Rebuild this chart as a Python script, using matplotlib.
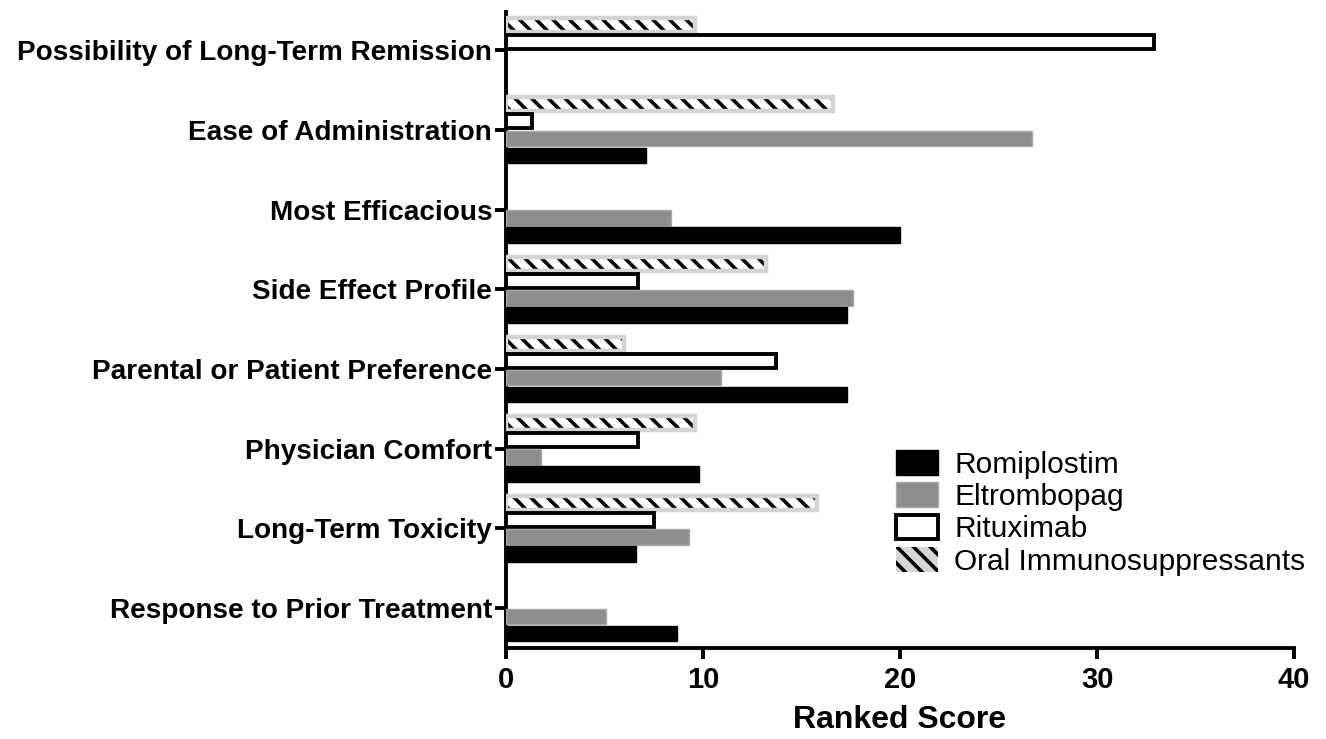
import numpy as np
import matplotlib
matplotlib.use('Agg')
import matplotlib.pyplot as plt
from matplotlib.patches import Patch

categories = ['Possibility of Long-Term Remission', 'Ease of Administration',
              'Most Efficacious', 'Side Effect Profile',
              'Parental or Patient Preference', 'Physician Comfort',
              'Long-Term Toxicity', 'Response to Prior Treatment']
romiplostim = [0, 7.1, 20.0, 17.3, 17.3, 9.8, 6.6, 8.7]
eltrombopag = [0, 26.7, 8.4, 17.6, 10.9, 1.8, 9.3, 5.1]
rituximab = [32.9, 1.3, 0, 6.7, 13.7, 6.7, 7.5, 0]
oral_immuno = [9.6, 16.6, 0, 13.2, 6.0, 9.6, 15.8, 0]
x_ticks = [0, 10, 20, 30, 40]

plt.rcParams['font.family'] = ['Liberation Sans', 'DejaVu Sans']
plt.rcParams['hatch.linewidth'] = 2.6

fig = plt.figure(figsize=(13.26, 7.39), dpi=100)
ax = fig.add_axes([0.3816, 0.1231, 0.5943, 0.8607])

y = np.arange(len(categories))
step = 0.213
h = 0.175


def nonzero(vals, offset):
    # skip empty bars so nothing is drawn at the axis
    vals = np.array(vals, dtype=float)
    keep = vals > 0
    return y[keep] + offset * step, vals[keep]


# oral immunosuppressants: hatched, light grey frame
yy, vv = nonzero(oral_immuno, -1.5)
ax.barh(yy, vv, height=h, color='white', edgecolor='black',
        hatch='\\\\', linewidth=0, zorder=2)
ax.barh(yy, vv, height=h, fill=False, edgecolor='#d4d4d4',
        linewidth=3.2, zorder=3)
yy, vv = nonzero(rituximab, -0.5)
ax.barh(yy, vv, height=h, color='white', edgecolor='black',
        linewidth=2.8, zorder=3)
yy, vv = nonzero(eltrombopag, 0.5)
ax.barh(yy, vv, height=h + 0.02, color='#8d8d8d',
        edgecolor='#a8a8a8', linewidth=1, zorder=3)
yy, vv = nonzero(romiplostim, 1.5)
ax.barh(yy, vv, height=h + 0.02, color='black',
        edgecolor='black', linewidth=1, zorder=3)

ax.set_ylim(7.5, -0.48)
ax.set_xlim(0, 40)
ax.set_yticks(y)
ax.set_yticklabels(categories, fontsize=20.1, fontweight='bold')
ax.set_xticks(x_ticks)
ax.set_xticklabels([str(t) for t in x_ticks], fontsize=21, fontweight='bold')
ax.set_xlabel('Ranked Score', fontsize=23, fontweight='bold', labelpad=8)

for s in ['top', 'right']:
    ax.spines[s].set_visible(False)
for s in ['left', 'bottom']:
    ax.spines[s].set_linewidth(2.8)
ax.tick_params(axis='both', width=2.8, length=8, direction='out')
ax.tick_params(axis='y', pad=2)
ax.tick_params(axis='x', pad=5)

handles = [Patch(facecolor='black', edgecolor='black', linewidth=1),
           Patch(facecolor='#8d8d8d', edgecolor='#a8a8a8', linewidth=1),
           Patch(facecolor='white', edgecolor='black', linewidth=2.8),
           Patch(facecolor='#d6d6d6', edgecolor='black', hatch='\\\\', linewidth=0)]
leg = ax.legend(handles, ['Romiplostim', 'Eltrombopag', 'Rituximab', 'Oral Immunosuppressants'],
                loc='upper left', bbox_to_anchor=(0.4795, 0.33), frameon=False,
                fontsize=21.5, handlelength=1.4, handleheight=0.9, labelspacing=0.12,
                handletextpad=0.55, borderaxespad=0)

fig.savefig('out.png', dpi=100)
